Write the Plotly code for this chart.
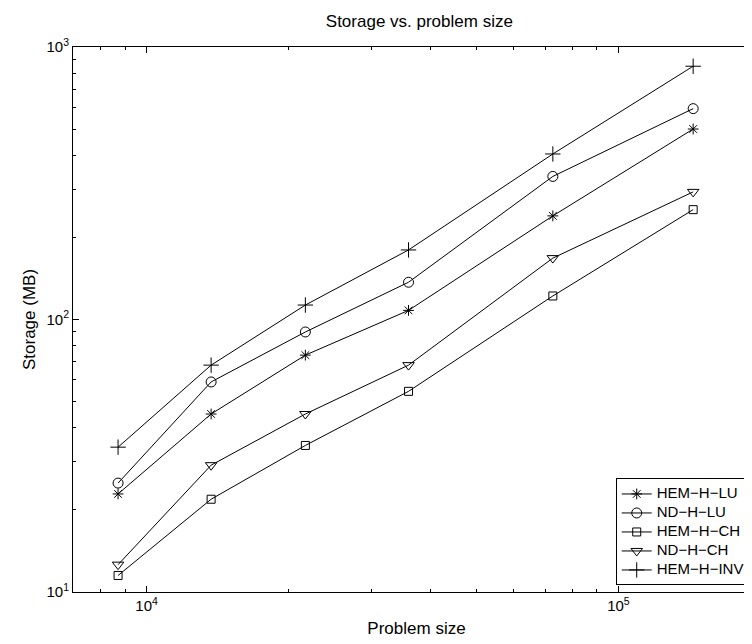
import plotly.graph_objects as go

problem_size = [8700, 13700, 21700, 35900, 72600, 144000]
hem_h_lu = [22.9, 45, 74, 108, 240, 500]
nd_h_lu = [25.1, 59, 90, 137, 335, 594]
hem_h_ch = [11.5, 21.9, 34.5, 54.5, 122, 253]
nd_h_ch = [12.6, 29.2, 45, 68, 168, 294]
hem_h_inv = [34, 68, 113, 180, 405, 850]

series = [
    ("HEM−H−LU", hem_h_lu, "asterisk-open", 9),
    ("ND−H−LU", nd_h_lu, "circle-open", 10),
    ("HEM−H−CH", hem_h_ch, "square-open", 8),
    ("ND−H−CH", nd_h_ch, "triangle-down-open", 10),
    ("HEM−H−INV", hem_h_inv, "cross-thin-open", 11),
]

fig = go.Figure()
for name, vals, sym, sz in series:
    fig.add_trace(go.Scatter(
        x=problem_size, y=vals,
        name='<span style="font-size:15px">' + name + '</span>',
        mode="lines+markers",
        line=dict(color="black", width=1),
        marker=dict(symbol=sym, size=sz, color="black", line=dict(color="black", width=1)),
    ))

font = "Liberation Sans, Arial, sans-serif"
x_minor = [m * 10 ** e for e in (3, 4, 5) for m in range(2, 10)]
y_minor = [m * 10 ** e for e in (1, 2) for m in range(2, 10)]

fig.update_layout(
    width=752, height=644,
    margin=dict(l=65, r=0, t=39, b=60),
    paper_bgcolor="white", plot_bgcolor="white",
    font=dict(family=font, size=15, color="black"),
    title=dict(text="Storage vs. problem size", x=0.547, xanchor="center",
               y=0.979, yanchor="middle", font=dict(size=17)),
    showlegend=True,
    legend=dict(x=0.79, xanchor="left", y=0.012, yanchor="bottom",
                bgcolor="white", bordercolor="black", borderwidth=1,
                font=dict(size=11.5), tracegroupgap=0, itemwidth=30),
)
fig.update_xaxes(
    type="log", range=[3.844, 5.30],
    showgrid=False, zeroline=False,
    showline=True, linecolor="black", linewidth=1, mirror="allticks",
    ticks="inside", ticklen=6, tickcolor="black",
    tickvals=[1e4, 1e5], ticktext=["10<sup>4</sup>", "10<sup>5</sup>"],
    minor=dict(ticks="inside", ticklen=3, tickcolor="black", tickvals=x_minor),
    title=dict(text="Problem size", font=dict(size=17), standoff=9),
    tickfont=dict(size=15),
)
fig.update_yaxes(
    type="log", range=[1, 3],
    showgrid=False, zeroline=False,
    showline=True, linecolor="black", linewidth=1, mirror="allticks",
    ticks="inside", ticklen=6, tickcolor="black",
    tickvals=[10, 100, 1000], ticktext=["10<sup>1</sup>", "10<sup>2</sup>", "10<sup>3</sup>"],
    minor=dict(ticks="inside", ticklen=3, tickcolor="black", tickvals=y_minor),
    title=dict(text="Storage (MB)", font=dict(size=17), standoff=6),
    tickfont=dict(size=15),
)

fig.write_html("out.html")
